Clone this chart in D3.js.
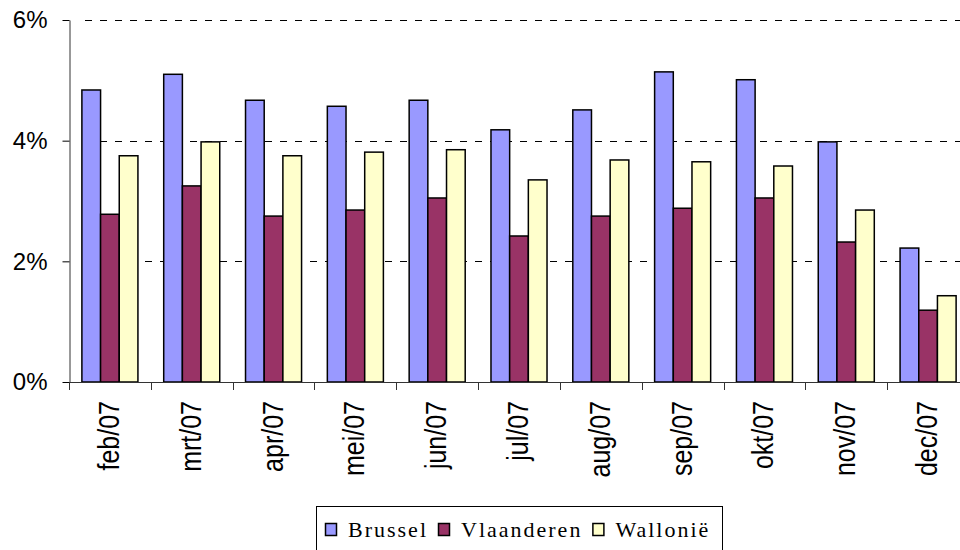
<!DOCTYPE html>
<html>
<head>
<meta charset="utf-8">
<script src="https://cdn.jsdelivr.net/npm/d3@7"></script>
<style>
  body { margin: 0; background: #fff; }
  svg { display: block; }
</style>
</head>
<body>
<svg id="chart" width="960" height="550"></svg>
<script>
// months on the x axis
const months = ["feb/07", "mrt/07", "apr/07", "mei/07", "jun/07", "jul/07",
                "aug/07", "sep/07", "okt/07", "nov/07", "dec/07"];
const seriesNames = ["Brussel", "Vlaanderen", "Wallonië"];
const seriesColors = ["#9999ff", "#993366", "#ffffcc"];

// values in percent
const brussel    = [4.84, 5.10, 4.67, 4.57, 4.67, 4.18, 4.51, 5.14, 5.01, 3.98, 2.22];
const vlaanderen = [2.78, 3.25, 2.75, 2.85, 3.05, 2.42, 2.75, 2.88, 3.05, 2.32, 1.19];
const wallonie   = [3.75, 3.98, 3.75, 3.81, 3.85, 3.35, 3.68, 3.65, 3.58, 2.85, 1.43];
const yTicks = [0, 2, 4, 6];

const series = [brussel, vlaanderen, wallonie];

const svg = d3.select("#chart");

const x = d3.scaleBand()
    .domain(months)
    .range([69, 969])
    .padding(0);

const xSub = d3.scaleBand()
    .domain(seriesNames)
    .range([0, x.bandwidth()])
    .paddingInner(0)
    .paddingOuter(0.69);

const y = d3.scaleLinear()
    .domain([0, 6])
    .range([382, 20]);

// dashed gridlines
svg.append("g")
    .selectAll("line")
    .data(yTicks.filter(d => d > 0))
    .join("line")
    .attr("x1", 85)
    .attr("x2", 960)
    .attr("y1", d => Math.round(y(d)) + 0.5)
    .attr("y2", d => Math.round(y(d)) + 0.5)
    .attr("stroke", "#000")
    .attr("stroke-width", 1)
    .attr("stroke-dasharray", "7,8");

// bars
const groups = svg.append("g")
    .selectAll("g")
    .data(months)
    .join("g")
    .attr("transform", d => `translate(${x(d)},0)`);

groups.selectAll("rect")
    .data((m, i) => seriesNames.map((s, j) => ({s: s, v: series[j][i], c: seriesColors[j]})))
    .join("rect")
    .attr("x", d => xSub(d.s))
    .attr("width", xSub.bandwidth())
    .attr("y", d => y(d.v))
    .attr("height", d => y(0) - y(d.v))
    .attr("fill", d => d.c)
    .attr("stroke", "#000")
    .attr("stroke-width", 1.5);

// y axis
const yAxis = svg.append("g")
    .attr("transform", "translate(69.5,0)")
    .call(d3.axisLeft(y).tickValues(yTicks).tickSize(7).tickSizeOuter(0).tickFormat(d => d + "%"));
yAxis.select(".domain").attr("stroke", "#333");
yAxis.selectAll("text")
    .attr("x", -22)
    .attr("font-family", "'Liberation Sans', Arial, sans-serif")
    .attr("font-size", 24)
    .attr("fill", "#000");

// x axis line and ticks at category boundaries
svg.append("line")
    .attr("x1", 69)
    .attr("x2", 960)
    .attr("y1", 382.5)
    .attr("y2", 382.5)
    .attr("stroke", "#333");

svg.append("g")
    .selectAll("line")
    .data(months)
    .join("line")
    .attr("x1", d => Math.round(x(d)) + 0.5)
    .attr("x2", d => Math.round(x(d)) + 0.5)
    .attr("y1", 382)
    .attr("y2", 390)
    .attr("stroke", "#333");

svg.append("g")
    .selectAll("text")
    .data(months)
    .join("text")
    .attr("transform", d => `translate(${x(d) + x.bandwidth() / 2 + 9},401) rotate(-90) scale(1,1.15)`)
    .attr("text-anchor", "end")
    .attr("font-family", "'Liberation Sans', Arial, sans-serif")
    .attr("font-size", 25)
    .text(d => d);

// legend
const legend = svg.append("g");
legend.append("rect")
    .attr("x", 316.5)
    .attr("y", 506.5)
    .attr("width", 406)
    .attr("height", 60)
    .attr("fill", "#fff")
    .attr("stroke", "#000");

let lx = 325;
seriesNames.forEach((name, i) => {
    legend.append("rect")
        .attr("x", lx + 0.5)
        .attr("y", 523.5)
        .attr("width", 11)
        .attr("height", 12)
        .attr("fill", seriesColors[i])
        .attr("stroke", "#000")
        .attr("stroke-width", 1.5);
    const t = legend.append("text")
        .attr("x", lx + 23)
        .attr("y", 537)
        .attr("font-family", "'Liberation Serif', 'Times New Roman', serif")
        .attr("font-size", 22)
        .attr("letter-spacing", "2px")
        .text(name);
    lx = lx + 23 + t.node().getComputedTextLength() + 10;
});
</script>
</body>
</html>
